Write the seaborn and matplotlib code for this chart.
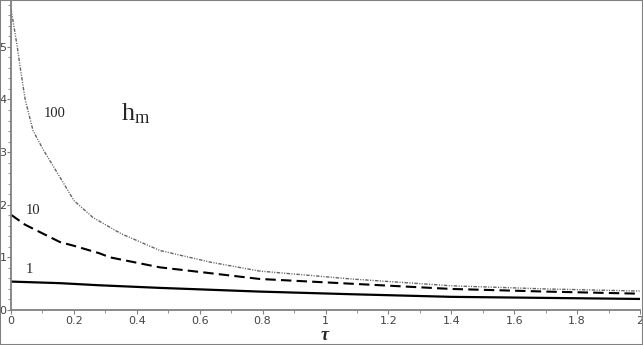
import pandas as pd
import matplotlib
matplotlib.use("Agg")
import matplotlib.pyplot as plt
from matplotlib.patches import Rectangle
from matplotlib.ticker import MultipleLocator, FuncFormatter
import seaborn as sns

# Curve readings (tau, h_m) for the three parameter values
tau_100 = [0.0, 0.02, 0.029, 0.045, 0.07, 0.103, 0.156, 0.20, 0.26, 0.315, 0.35, 0.474, 0.633, 0.79, 1.08, 1.40, 1.70, 2.0]
h_100 = [5.72, 5.0, 4.62, 4.0, 3.41, 3.04, 2.52, 2.08, 1.76, 1.57, 1.45, 1.13, 0.91, 0.74, 0.59, 0.46, 0.40, 0.36]

tau_10 = [0.0, 0.045, 0.092, 0.156, 0.20, 0.28, 0.315, 0.44, 0.474, 0.633, 0.79, 1.08, 1.40, 1.70, 2.0]
h_10 = [1.81, 1.62, 1.48, 1.29, 1.22, 1.08, 1.00, 0.85, 0.81, 0.70, 0.59, 0.50, 0.40, 0.35, 0.31]

tau_1 = [0.0, 0.156, 0.28, 0.474, 0.79, 1.08, 1.40, 2.0]
h_1 = [0.54, 0.51, 0.47, 0.42, 0.35, 0.30, 0.25, 0.21]

curve_labels = ["100", "10", "1"]

sns.set_style("white")
serif = ["Liberation Serif", "DejaVu Serif"]

fig = plt.figure(figsize=(6.43, 3.45), dpi=100)
ax = fig.add_axes([11 / 643, 1 - 310 / 345, 629 / 643, 310 / 345])

sns.lineplot(x=tau_1, y=h_1, ax=ax, color="black", linewidth=1.6, linestyle="-")
sns.lineplot(x=tau_10, y=h_10, ax=ax, color="black", linewidth=1.5, linestyle=(0, (5, 2.5)))
sns.lineplot(x=tau_100, y=h_100, ax=ax, color="#666666", linewidth=1.0,
             linestyle=(0, (2.5, 1, 0.8, 1, 0.8, 1)))

ax.set_xlim(0, 2)
ax.set_ylim(0, 5.89)
ax.xaxis.set_major_locator(MultipleLocator(0.2))
ax.xaxis.set_minor_locator(MultipleLocator(0.1))
ax.yaxis.set_major_locator(MultipleLocator(1))
ax.yaxis.set_minor_locator(MultipleLocator(0.2))
ax.xaxis.set_major_formatter(FuncFormatter(lambda v, p: f"{v:g}"))
ax.yaxis.set_major_formatter(FuncFormatter(lambda v, p: f"{v:g}"))

for side in ["top", "right"]:
    ax.spines[side].set_visible(False)
for side in ["left", "bottom"]:
    ax.spines[side].set_color("#808080")
    ax.spines[side].set_linewidth(1.3)

ax.tick_params(which="major", direction="out", length=3, width=0.8, color="#808080",
               labelsize=8, labelcolor="#444444", pad=1.5)
ax.tick_params(axis="y", which="major", pad=0.3)
ax.tick_params(which="minor", direction="out", length=2, width=0.6, color="#808080")
ax.tick_params(axis="y", which="both", left=True)
ax.tick_params(axis="x", which="both", bottom=True)

# curve labels
ax.text(0.14, 3.74, curve_labels[0], family=serif, fontsize=10.5, ha="center", va="center")
ax.text(0.07, 1.89, curve_labels[1], family=serif, fontsize=10.5, ha="center", va="center")
ax.text(0.057, 0.77, curve_labels[2], family=serif, fontsize=10.5, ha="center", va="center")
ax.text(0.35, 3.6, r"$\mathregular{h_m}$", family=serif, fontsize=19, ha="left", va="baseline")

fig.text(325 / 643, 1 - 336 / 345, "τ", family=serif, fontsize=13, fontweight="bold",
         fontstyle="italic", ha="center", va="center")

# thin grey frame round the picture
fig.patches.append(Rectangle((0, 0), 1, 1, transform=fig.transFigure, fill=False,
                             edgecolor="#808080", linewidth=1.5))

fig.savefig("out.png", dpi=100)
